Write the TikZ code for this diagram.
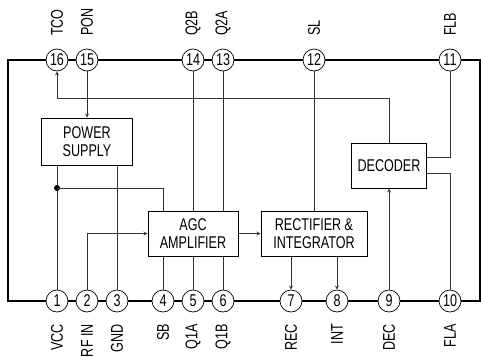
\documentclass[tikz,border=0pt]{standalone}
\usepackage{fontspec}
\newfontfamily\narrowsf{Liberation Sans}[FakeStretch=0.74]

\tikzset{
  pinc/.style={circle,draw,fill=white,line width=0.7pt,minimum size=22pt,inner sep=0pt},
  toplbl/.style={rotate=90,anchor=west,inner sep=0pt},
  botlbl/.style={rotate=90,anchor=east,inner sep=0pt},
  blk/.style={draw,line width=1pt,align=center,inner sep=0pt},
  wire/.style={line width=0.8pt,black!80},
}

\begin{document}
\begin{tikzpicture}[x=1pt,y=-1pt,>=stealth,
        font=\narrowsf\fontsize{17}{18.5}\selectfont]
    \useasboundingbox (0,0) rectangle (481,356);

    % package outline
    \draw[line width=1.8pt] (8,60) rectangle (480,301);

    % pins on top and bottom
    \foreach \n/\x/\t in {16/57/TCO,15/87/PON,14/193/Q2B,13/223/Q2A,
            12/314/SL,11/450/FLB}{
        \node[pinc] (p\n) at (\x,60) {\n};
        \node[toplbl] (t\n) at (\x,36) {\t};
    }
    \foreach \n/\x/\t in {1/57/VCC,2/87/RF IN,3/117/GND,4/163/SB,5/193/Q1A,
            6/223/Q1B,7/291/REC,8/337/INT,9/389/DEC,10/450/FLA}{
        \node[pinc] (p\n) at (\x,301) {\n};
        \node[botlbl] (b\n) at (\x,324) {\t};
    }

    % blocks
    \node[blk,minimum width=91pt,minimum height=47pt] (psu) at (87,141.5)
        {POWER\\SUPPLY};
    \node[blk,minimum width=90pt,minimum height=45pt] (agc) at (193,233.5)
        {AGC\\AMPLIFIER};
    \node[blk,minimum width=106pt,minimum height=45pt] (rect) at (314,233.5)
        {RECTIFIER \&\\INTEGRATOR};
    \node[blk,minimum width=75pt,minimum height=45pt] (dec) at (389,165.5)
        {DECODER};

    % connections
    \draw[wire,->] (p15) -- (p15 |- psu.north);
    \draw[wire] (p14) -- (p14 |- agc.north);
    \draw[wire] (p13) -- (p13 |- agc.north);
    \draw[wire] (p12) -- (p12 |- rect.north);
    \draw[wire,->] (dec.north) |- (p16 |- 0,98) -- (p16);
    \draw[wire] (p11) |- (dec.east |- 0,157);
    \draw[wire] (p10) |- (dec.east |- 0,173);
    \draw[wire,->] (p9) -- (p9 |- dec.south);

    \draw[wire] (p1 |- psu.south) -- (p1);
    \coordinate (dot) at (p1 |- 0,188);
    \fill (dot) circle (3pt);
    \draw[wire] (dot) -| (p4 |- agc.north);
    \draw[wire] (p3 |- psu.south) -- (p3);
    \draw[wire,->] (p2) |- (agc.west);
    \draw[wire,->] (agc.east) -- (rect.west);
    \foreach \n in {4,5,6}
        \draw[wire] (p\n |- agc.south) -- (p\n);
    \draw[wire,->] (p7 |- rect.south) -- (p7);
    \draw[wire,->] (p8 |- rect.south) -- (p8);
\end{tikzpicture}
\end{document}
